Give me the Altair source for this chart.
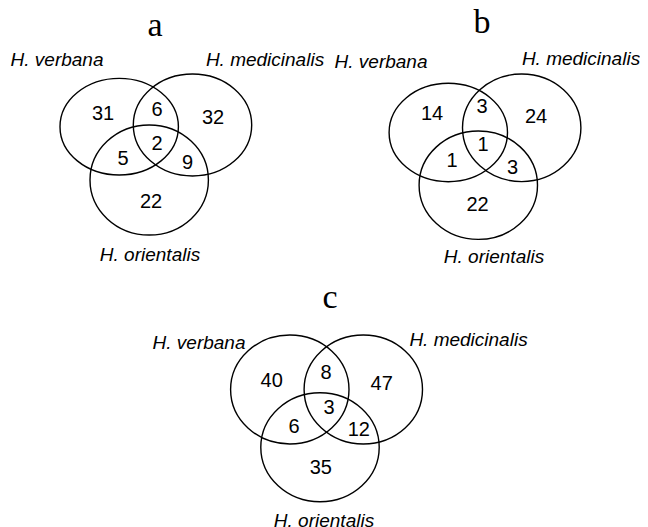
import altair as alt
import pandas as pd

# ---- data ----
panels = ["a", "b", "c"]
species = ["H. verbana", "H. medicinalis", "H. orientalis"]
regions = ["V", "VM", "M", "VMO", "VO", "MO", "O"]
counts_a = [31, 6, 32, 2, 5, 9, 22]
counts_b = [14, 3, 24, 1, 1, 3, 22]
counts_c = [40, 8, 47, 3, 6, 12, 35]
counts = {"a": counts_a, "b": counts_b, "c": counts_c}

# ---- layout (page pixel units) ----
circle_cx = {"a": [119.2, 192.5, 149.2], "b": [448.3, 521.7, 478.3], "c": [289.8, 363.3, 320.0]}
circle_cy = {"a": [126.7, 125.0, 180.0], "b": [132.5, 127.8, 185.2], "c": [389.5, 389.5, 447.2]}
circle_rx = 59.2
circle_ry = {"a": [48.3, 51.0, 55.0], "b": [49.2, 53.8, 54.2], "c": [54.5, 54.5, 54.5]}

region_x = {"a": [103, 157, 213, 157, 123, 187.5, 151],
            "b": [432, 482, 536, 483, 452, 512.5, 477.5],
            "c": [271.7, 326, 381.7, 329, 294, 358.8, 320.8]}
region_y = {"a": [114, 109.5, 117.5, 144, 158.5, 162.5, 201.5],
            "b": [114, 106.7, 116.7, 145, 161, 168.3, 204.5],
            "c": [380.8, 373.3, 384, 408.3, 426.7, 429.8, 468.3]}

label_x = {"a": [57, 265, 150], "b": [381, 581, 494], "c": [199, 468.5, 324]}
label_y = {"a": [66, 66, 261], "b": [68, 65, 263], "c": [349, 346, 527]}

letter_x = {"a": 155, "b": 482, "c": 330}
letter_y = {"a": 36, "b": 33, "c": 308}

# ---- tables ----
circ_rows, num_rows, lab_rows, let_rows = [], [], [], []
for p in panels:
    for i, s in enumerate(species):
        k = circle_ry[p][i] / circle_rx
        path = f"M-1,0A1,{k:.4f},0,1,1,1,0A1,{k:.4f},0,1,1,-1,0Z"
        circ_rows.append({"panel": p, "species": s, "x": circle_cx[p][i], "y": circle_cy[p][i],
                          "path": path, "size": (2 * circle_rx) ** 2})
        lab_rows.append({"panel": p, "label": s, "x": label_x[p][i], "y": label_y[p][i]})
    for j, r in enumerate(regions):
        num_rows.append({"panel": p, "region": r, "count": counts[p][j],
                         "x": region_x[p][j], "y": region_y[p][j]})
    let_rows.append({"panel": p, "x": letter_x[p], "y": letter_y[p]})

W, H = 632, 519
xs = alt.Scale(domain=[8, 8 + W], nice=False, zero=False)
ys = alt.Scale(domain=[8, 8 + H], nice=False, zero=False, reverse=True)
X = lambda: alt.X("x:Q", scale=xs, axis=None)
Y = lambda: alt.Y("y:Q", scale=ys, axis=None)

circles = alt.Chart(pd.DataFrame(circ_rows)).mark_point(
    filled=False, stroke="black", strokeWidth=1.4, opacity=1
).encode(
    x=X(), y=Y(),
    shape=alt.Shape("path:N", scale=None, legend=None),
    size=alt.Size("size:Q", scale=None, legend=None),
)

numbers = alt.Chart(pd.DataFrame(num_rows)).mark_text(
    font="Liberation Sans", fontSize=20, color="black", align="center", baseline="middle"
).encode(x=X(), y=Y(), text="count:Q")

labels = alt.Chart(pd.DataFrame(lab_rows)).mark_text(
    font="Liberation Sans", fontSize=19, fontStyle="italic", color="black",
    align="center", baseline="alphabetic"
).encode(x=X(), y=Y(), text="label:N")

letters = alt.Chart(pd.DataFrame(let_rows)).mark_text(
    font="Liberation Serif", fontSize=34, color="black", align="center", baseline="alphabetic"
).encode(x=X(), y=Y(), text="panel:N")

chart = alt.layer(circles, numbers, labels, letters).properties(
    width=W, height=H, padding=0, autosize=alt.AutoSizeParams(type="none"),
    background="white"
).configure_view(stroke=None)

chart.save("out.html", embed_options={"renderer": "svg", "actions": False})
